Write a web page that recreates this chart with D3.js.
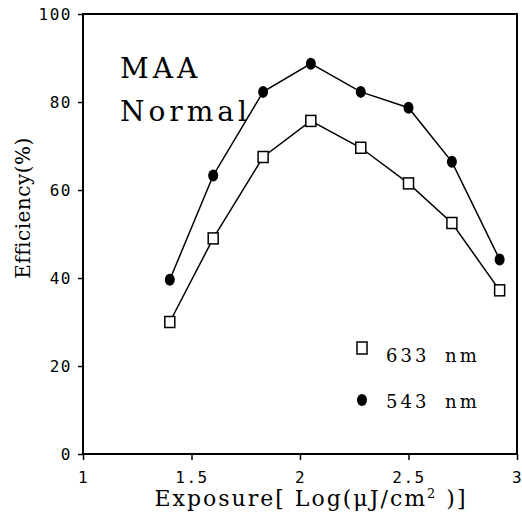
<!DOCTYPE html>
<html>
<head>
<meta charset="utf-8">
<script src="https://cdn.jsdelivr.net/npm/d3@7"></script>
<style>
  body { margin: 0; background: #fff; }
  svg text { fill: #000; }
</style>
</head>
<body>
<svg width="522" height="517"></svg>
<script>
const exposure = [1.40, 1.60, 1.83, 2.05, 2.28, 2.50, 2.70, 2.92];
const eff633 = [30, 49, 67.5, 75.7, 69.6, 61.5, 52.5, 37.2];
const eff543 = [39.6, 63.3, 82.3, 88.7, 82.3, 78.7, 66.4, 44.2];
const xTicks = [1, 1.5, 2, 2.5, 3];
const yTicks = [0, 20, 40, 60, 80, 100];
const legendLabels = ["633 nm", "543 nm"];

const svg = d3.select("svg");
const plotLeft = 83, plotRight = 517, plotTop = 14, plotBottom = 454;
const serif = "DejaVu Serif, Liberation Serif, serif";

const x = d3.scaleLinear().domain([1, 3]).range([plotLeft, plotRight]);
const y = d3.scaleLinear().domain([0, 100]).range([plotBottom, plotTop]);

// frame
svg.append("rect")
    .attr("x", plotLeft).attr("y", plotTop)
    .attr("width", plotRight - plotLeft).attr("height", plotBottom - plotTop)
    .attr("fill", "none").attr("stroke", "#000").attr("stroke-width", 2);

const xAxis = svg.append("g")
    .attr("transform", `translate(0,${plotBottom})`)
    .call(d3.axisBottom(x).tickValues(xTicks).tickSize(6).tickPadding(9)
        .tickFormat(d => d3.format("")(d)));
const yAxis = svg.append("g")
    .attr("transform", `translate(${plotLeft},0)`)
    .call(d3.axisLeft(y).tickValues(yTicks).tickSize(5).tickPadding(6));

[xAxis, yAxis].forEach(g => {
    g.select(".domain").remove();
    g.selectAll("line").attr("stroke", "#000").attr("stroke-width", 1.5);
    g.selectAll("text")
        .attr("font-family", "DejaVu Sans Mono, Liberation Mono, monospace")
        .attr("font-size", 16)
        .attr("letter-spacing", 1.5)
        .attr("fill", "#000");
});
xAxis.selectAll("text").attr("dy", "0.9em");

const line = d3.line()
    .x((d, i) => x(exposure[i]))
    .y(d => y(d));

svg.append("path").datum(eff543)
    .attr("d", line).attr("fill", "none")
    .attr("stroke", "#000").attr("stroke-width", 1.5);
svg.append("path").datum(eff633)
    .attr("d", line).attr("fill", "none")
    .attr("stroke", "#000").attr("stroke-width", 1.5);

svg.selectAll(".c543").data(eff543).enter().append("ellipse")
    .attr("cx", (d, i) => x(exposure[i]))
    .attr("cy", d => y(d))
    .attr("rx", 5).attr("ry", 6)
    .attr("fill", "#000");

svg.selectAll(".s633").data(eff633).enter().append("rect")
    .attr("x", (d, i) => x(exposure[i]) - 5)
    .attr("y", d => y(d) - 5.5)
    .attr("width", 10).attr("height", 11)
    .attr("fill", "#fff").attr("stroke", "#000").attr("stroke-width", 1.5);

// annotation
const note = svg.append("text")
    .attr("font-family", serif)
    .attr("font-size", 28)
    .attr("letter-spacing", 4);
note.append("tspan").attr("x", 120).attr("y", 78).text("MAA");
note.append("tspan").attr("x", 120).attr("y", 121).text("Normal");

// legend
const legend = svg.append("g");
legend.append("rect")
    .attr("x", 357).attr("y", 342).attr("width", 10).attr("height", 12)
    .attr("fill", "#fff").attr("stroke", "#000").attr("stroke-width", 1.5);
legend.append("ellipse")
    .attr("cx", 362).attr("cy", 400).attr("rx", 5).attr("ry", 6)
    .attr("fill", "#000");
legend.selectAll("text").data(legendLabels).enter().append("text")
    .attr("x", 386)
    .attr("y", (d, i) => 362 + i * 46)
    .attr("font-family", serif)
    .attr("font-size", 18)
    .attr("letter-spacing", 3)
    .attr("word-spacing", 7)
    .text(d => d);

// axis titles
svg.append("text")
    .attr("x", 311).attr("y", 506)
    .attr("text-anchor", "middle")
    .attr("font-family", serif)
    .attr("font-size", 22)
    .attr("letter-spacing", 2)
    .html('Exposure[ Log(μJ/cm<tspan dy="-8" font-size="13">2</tspan><tspan dy="8"> )]</tspan>');

svg.append("text")
    .attr("transform", "translate(30,208) rotate(-90)")
    .attr("text-anchor", "middle")
    .attr("font-family", serif)
    .attr("font-size", 20)
    .attr("letter-spacing", 0.5)
    .text("Efficiency(%)");
</script>
</body>
</html>
